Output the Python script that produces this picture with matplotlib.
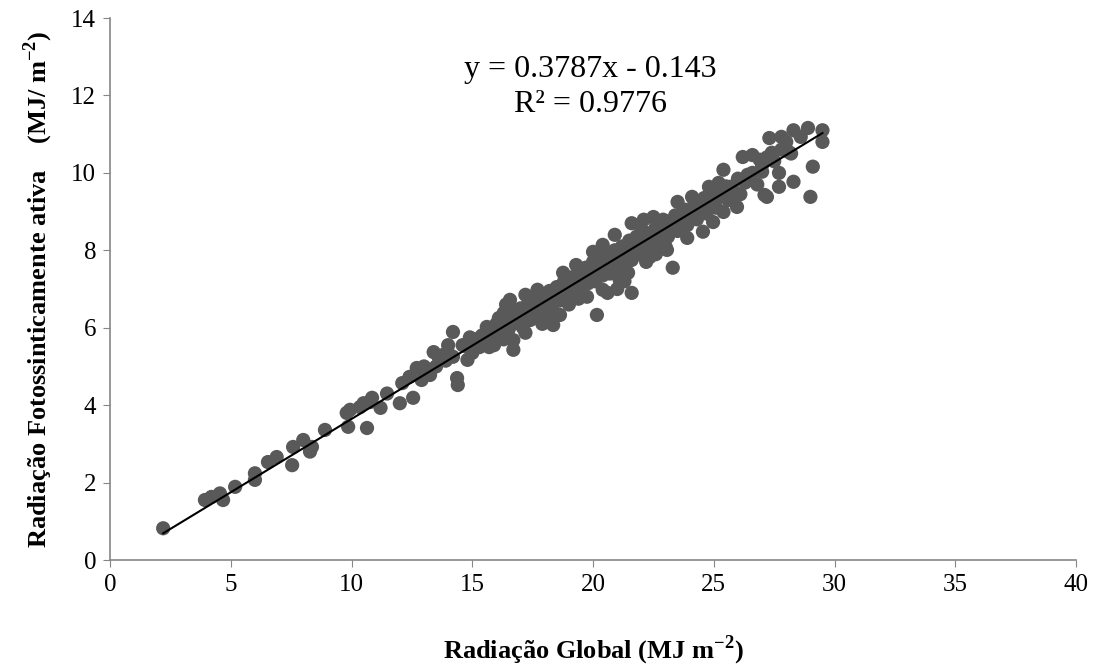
import numpy as np
import matplotlib
matplotlib.use('Agg')
import matplotlib.pyplot as plt

plt.rcParams['font.family'] = ['Liberation Serif', 'DejaVu Serif']
plt.rcParams['mathtext.fontset'] = 'custom'
plt.rcParams['mathtext.rm'] = 'Liberation Serif'
plt.rcParams['mathtext.bf'] = 'Liberation Serif:bold'

# Radiação global (MJ m-2)
rg = [
    2.2, 3.93, 4.2, 4.55, 4.68, 5.18, 6.0, 6.0, 6.54, 6.9,
    7.54, 7.58, 8.0, 8.28, 8.36, 8.9, 9.8, 9.86, 10.64, 10.77,
    10.35, 9.94, 10.5, 10.85, 11.2, 11.47, 12.0, 12.55, 12.1, 12.4,
    12.7, 13.25, 13.4, 13.8, 14.2, 14.0, 14.4, 14.37, 14.8, 15.2,
    15.6, 15.7, 16.0, 16.3, 16.56, 16.7, 17.0, 17.2, 16.7, 14.8,
    20.16, 21.6, 21.45, 18.35, 18.63, 17.2, 17.7, 18.76, 19.3, 20.0,
    20.4, 20.9, 21.6, 22.1, 20.4, 21.1, 19.75, 18.1, 22.2, 23.3,
    24.55, 25.4, 25.96, 25.4, 27.1, 26.4, 22.36, 23.9, 23.5, 24.1,
    24.8, 25.2, 25.67, 26.2, 26.6, 22.5, 22.9, 22.0, 23.06, 22.8,
    23.7, 24.3, 24.97, 25.8, 29.1, 29.0, 28.3, 27.7, 27.7, 27.2,
    27.3, 27.8, 28.3, 28.9, 29.5, 29.5, 28.1, 27.4, 26.9, 27.0,
    28.6, 15.0, 15.1, 15.3, 15.4, 15.6, 15.8, 15.9, 16.0, 16.1,
    16.2, 16.3, 16.4, 16.5, 16.6, 16.7, 16.8, 16.9, 17.0, 17.1,
    17.2, 17.3, 17.4, 17.5, 17.6, 17.7, 17.8, 17.9, 18.0, 18.1,
    18.2, 18.3, 18.4, 18.5, 18.6, 18.7, 18.8, 18.9, 19.0, 19.1,
    19.2, 19.3, 19.4, 19.5, 19.6, 19.7, 19.8, 19.9, 20.0, 20.1,
    20.2, 20.3, 20.4, 20.5, 20.6, 20.7, 20.8, 20.9, 21.0, 21.1,
    21.2, 21.3, 21.4, 21.5, 21.6, 21.7, 21.8, 21.9, 22.0, 22.2,
    22.3, 22.4, 22.6, 22.7, 22.8, 23.0, 23.1, 23.2, 23.4, 23.5,
    23.6, 23.8, 23.9, 24.0, 24.2, 24.3, 24.5, 24.6, 24.7, 24.9,
    25.0, 25.1, 25.3, 25.5, 25.6, 25.8, 26.0, 26.1, 26.3, 26.6,
    26.8, 27.0, 27.2, 27.5, 27.8, 28.0, 28.2, 17.9, 18.2, 19.0,
    19.4, 20.6, 21.0, 21.3, 22.6, 23.0, 13.0, 13.6, 14.0, 14.6,
    14.9, 15.8, 16.1, 16.4, 13.0, 13.5, 12.9, 13.9, 14.2,
]

# Radiação fotossinteticamente ativa (MJ m-2)
rfa = [
    0.82, 1.55, 1.63, 1.72, 1.55, 1.89, 2.24, 2.07, 2.53, 2.66,
    2.45, 2.92, 3.1, 2.8, 2.92, 3.36, 3.8, 3.44, 3.41, 4.08,
    3.95, 3.88, 4.05, 4.19, 3.93, 4.3, 4.05, 4.19, 4.57, 4.73,
    4.96, 4.78, 5.37, 5.3, 5.89, 5.55, 4.52, 4.7, 5.5, 5.68,
    6.02, 5.5, 5.76, 6.38, 6.72, 5.68, 6.12, 6.85, 5.43, 5.17,
    6.33, 6.9, 7.42, 6.07, 6.33, 5.87, 6.98, 7.42, 7.62, 7.96,
    8.14, 8.4, 8.7, 8.79, 6.98, 7.24, 6.8, 6.46, 7.7, 7.55,
    8.48, 8.99, 9.12, 10.08, 9.43, 9.95, 7.83, 8.32, 9.25, 9.38,
    9.64, 9.74, 9.64, 10.41, 10.46, 8.86, 8.79, 8.53, 8.01, 8.27,
    8.6, 8.86, 8.73, 9.38, 10.16, 9.38, 9.77, 10.0, 9.64, 9.38,
    10.9, 10.93, 11.1, 11.16, 11.1, 10.8, 10.54, 10.52, 10.34, 10.03,
    10.93, 5.35, 5.7, 5.5, 5.8, 5.6, 5.9, 5.55, 6.1, 5.85,
    6.0, 5.7, 6.25, 5.95, 6.3, 6.1, 6.45, 6.2, 6.5, 6.0,
    6.35, 6.6, 6.2, 6.5, 6.75, 6.3, 6.6, 6.85, 6.45, 6.75,
    6.95, 6.55, 6.85, 7.05, 6.7, 6.95, 7.2, 6.85, 7.1, 7.3,
    6.95, 7.2, 7.45, 7.05, 7.3, 7.55, 7.15, 7.45, 7.7, 7.2,
    7.5, 7.8, 7.35, 7.6, 7.9, 7.4, 7.7, 8.0, 7.55, 7.85,
    8.1, 7.65, 7.95, 8.25, 7.75, 8.05, 8.35, 7.9, 8.2, 8.45,
    8.0, 8.3, 8.6, 8.2, 8.45, 8.75, 8.35, 8.6, 8.9, 8.5,
    8.75, 9.05, 8.65, 8.9, 9.2, 8.8, 9.05, 9.35, 8.95, 9.2,
    9.5, 9.1, 9.4, 9.65, 9.3, 9.55, 9.85, 9.45, 9.75, 10.0,
    9.7, 10.2, 10.4, 10.3, 10.6, 10.8, 10.5, 6.1, 6.25, 6.6,
    6.75, 6.9, 7.0, 7.2, 7.9, 8.1, 5.0, 5.25, 5.35, 5.55,
    5.75, 6.0, 6.25, 6.6, 4.85, 5.0, 4.65, 5.15, 5.25,
]

# trend line as printed on the chart
slope = 0.3787
intercept = -0.143
r2 = 0.9776

fig = plt.figure(figsize=(10.96, 6.67), dpi=100)
ax = fig.add_axes([0.1004, 0.1604, 0.8814, 0.8126])

ax.scatter(rg, rfa, s=105, color='#595959', edgecolors='none', zorder=2)

xl = np.array([min(rg), max(rg)])
ax.plot(xl, slope * xl + intercept, color='black', lw=1.5, zorder=3)

ax.set_xlim(0, 40)
ax.set_ylim(0, 14)
ax.set_xticks(np.arange(0, 41, 5))
ax.set_yticks(np.arange(0, 15, 2))
ax.tick_params(direction='out', length=5, color='#868686', labelsize=18, pad=5)

for s in ['top', 'right']:
    ax.spines[s].set_visible(False)
for s in ['left', 'bottom']:
    ax.spines[s].set_color('#868686')
    ax.spines[s].set_linewidth(1.2)

ax.set_xlabel(r'Radiação Global (MJ m$^{\mathbf{-2}}$)', fontsize=19,
              fontweight='bold')
ax.xaxis.set_label_coords(0.5, -0.135)
ax.set_ylabel(r'Radiação Fotossinticamente ativa    (MJ/ m$^{\mathbf{-2}}$)',
              fontsize=19, fontweight='bold')
ax.yaxis.set_label_coords(-0.057, 0.5)

ax.text(19.9, 12.22, f'y = {slope}x - {abs(intercept)}\nR² = {r2}',
        ha='center', va='center', fontsize=23, multialignment='center',
        linespacing=1.3)

fig.savefig('out.png', dpi=100)
